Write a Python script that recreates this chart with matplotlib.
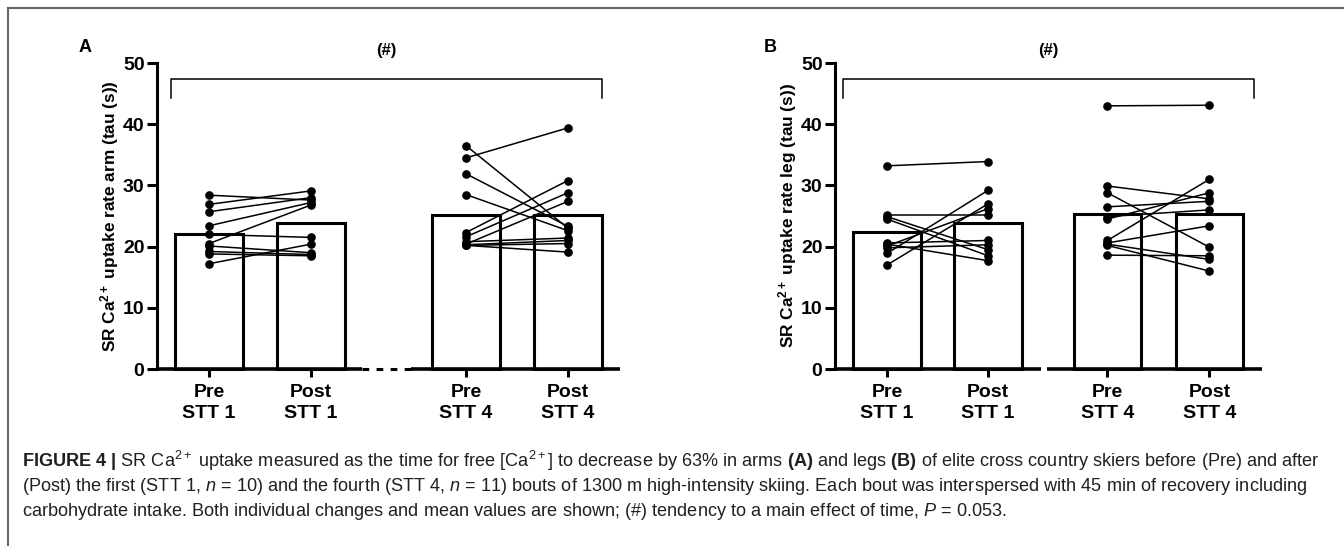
import matplotlib
matplotlib.use("Agg")
import matplotlib.pyplot as plt
from matplotlib.lines import Line2D

plt.rcParams['font.family'] = ['Liberation Sans', 'DejaVu Sans']
plt.rcParams['mathtext.fontset'] = 'custom'
plt.rcParams['mathtext.rm'] = 'Liberation Sans'
plt.rcParams['mathtext.bf'] = 'Liberation Sans:bold'
plt.rcParams['mathtext.it'] = 'Liberation Sans:italic'

# ---- data ----
tick_labels = ['Pre\nSTT 1', 'Post\nSTT 1', 'Pre\nSTT 4', 'Post\nSTT 4']

arm_means = [22.1, 23.9, 25.2, 25.2]
arm_pre1 = [28.4, 26.9, 25.7, 23.4, 22.0, 20.5, 20.1, 19.2, 18.8, 17.2]
arm_post1 = [27.6, 29.1, 28.0, 27.2, 21.5, 26.8, 19.0, 18.7, 18.5, 20.4]
arm_pre4 = [36.5, 34.5, 31.9, 28.5, 22.3, 21.6, 20.8, 20.4, 20.3, 20.2, 20.2]
arm_post4 = [23.0, 39.4, 23.3, 22.6, 30.8, 28.8, 21.4, 27.4, 21.0, 19.1, 20.5]

leg_means = [22.4, 23.9, 25.3, 25.4]
leg_pre1 = [33.2, 25.2, 24.9, 24.5, 20.6, 20.4, 20.1, 19.8, 18.9, 17.0]
leg_post1 = [33.9, 25.2, 19.5, 18.5, 21.0, 17.7, 26.2, 20.3, 29.2, 27.0]
leg_pre4 = [43.0, 29.9, 28.8, 26.5, 24.9, 24.5, 21.0, 20.6, 20.4, 20.2, 18.6]
leg_post4 = [43.1, 27.8, 19.9, 27.4, 26.0, 28.8, 31.0, 23.4, 17.9, 16.0, 18.5]

W, H = 1344, 546
fig = plt.figure(figsize=(W / 100, H / 100), dpi=100)

LW = 2.2


def px_axes(x0, x1, ytop, ybot):
    return fig.add_axes([x0 / W, 1 - ybot / H, (x1 - x0) / W, (ybot - ytop) / H])


def panel(ax, pos, xlim, means, pairs, ylabel, axis_segs, dashed_seg, bracket):
    ax.set_xlim(*xlim)
    ax.set_ylim(0, 50)
    for s in ['top', 'right', 'bottom']:
        ax.spines[s].set_visible(False)
    ax.spines['left'].set_linewidth(LW)
    ax.patch.set_alpha(0)

    ax.bar(pos, means, width=0.67, facecolor='white', edgecolor='black',
           linewidth=LW, zorder=2, clip_on=False)

    for (i, j), (a, b) in pairs:
        for ya, yb in zip(a, b):
            ax.plot([pos[i], pos[j]], [ya, yb], '-o', color='black', lw=1.1,
                    ms=5.2, zorder=3, clip_on=False)

    # broken x axis
    for x0, x1 in axis_segs:
        ax.plot([x0, x1], [0, 0], color='black', lw=LW + 0.4,
                solid_capstyle='butt', clip_on=False, zorder=4)
    if dashed_seg is not None:
        ax.plot(dashed_seg, [0, 0], color='black', lw=LW, dashes=(2.2, 2.4),
                clip_on=False, zorder=4)

    ax.set_xticks(pos)
    ax.set_xticklabels(tick_labels, fontsize=14, fontweight='bold', linespacing=1.25)
    ax.tick_params(axis='x', length=6, width=LW, pad=5)
    ax.set_yticks([0, 10, 20, 30, 40, 50])
    ax.set_yticklabels(['0', '10', '20', '30', '40', '50'], fontsize=14, fontweight='bold')
    ax.tick_params(axis='y', length=7, width=LW, pad=2)
    ax.set_ylabel(ylabel, fontsize=12.4, fontweight='bold', labelpad=1)

    xl, xr = bracket
    ax.plot([xl, xl, xr, xr], [44.3, 47.4, 47.4, 44.3], color='black', lw=1.1,
            clip_on=False)
    ax.text((xl + xr) / 2, 52.0, '(#)', ha='center', va='center', fontsize=12,
            fontweight='bold', clip_on=False)


pos_a = [0, 1, 2.52, 3.52]
axA = px_axes(157, 620, 63, 369)
panel(axA, pos_a, (-0.51, 4.03), arm_means,
      [((0, 1), (arm_pre1, arm_post1)), ((2, 3), (arm_pre4, arm_post4))],
      r'SR Ca$^{\mathbf{2+}}$ uptake rate arm (tau (s))',
      [(-0.51, 1.50), (1.98, 4.03)], [1.50, 1.98], (-0.37, 3.85))

pos_b = [0, 1, 2.18, 3.19]
axB = px_axes(835, 1262, 63, 369)
panel(axB, pos_b, (-0.515, 3.71), leg_means,
      [((0, 1), (leg_pre1, leg_post1)), ((2, 3), (leg_pre4, leg_post4))],
      r'SR Ca$^{\mathbf{2+}}$ uptake rate leg (tau (s))',
      [(-0.515, 1.525), (1.585, 3.71)], None, (-0.44, 3.63))

fig.text(85 / W, 1 - 47 / H, 'A', fontsize=13, fontweight='bold', ha='center', va='center')
fig.text(770 / W, 1 - 47 / H, 'B', fontsize=13, fontweight='bold', ha='center', va='center')

# frame of the figure box
fig.add_artist(Line2D([8 / W, 8 / W], [0, 1 - 8 / H], color='#666666', lw=1.5))
fig.add_artist(Line2D([8 / W, 1], [1 - 8 / H, 1 - 8 / H], color='#666666', lw=1.5))

cap_color = '#231f20'
cap1 = (r'$\mathbf{FIGURE\ 4\ |}$ SR Ca$^{2+}$ uptake measured as the time for free [Ca$^{2+}$] '
        r'to decrease by 63% in arms $\mathbf{(A)}$ and legs $\mathbf{(B)}$ of elite cross country '
        r'skiers before (Pre) and after')
cap2 = (r'(Post) the first (STT 1, $\mathit{n}$ = 10) and the fourth (STT 4, $\mathit{n}$ = 11) '
        r'bouts of 1300 m high-intensity skiing. Each bout was interspersed with 45 min of '
        r'recovery including')
cap3 = (r'carbohydrate intake. Both individual changes and mean values are shown; (#) tendency '
        r'to a main effect of time, $\mathit{P}$ = 0.053.')
for k, line in enumerate([cap1, cap2, cap3]):
    fig.text(22 / W, 1 - (461 + 25.5 * k) / H, line, fontsize=13.1, color=cap_color,
             ha='left', va='center')

fig.savefig('out.png', dpi=100)
